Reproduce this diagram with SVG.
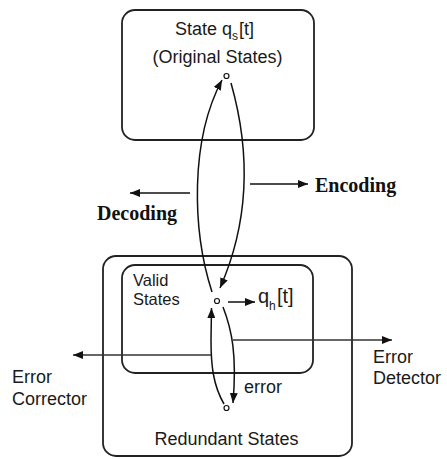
<svg xmlns="http://www.w3.org/2000/svg" width="447" height="459" viewBox="0 0 447 459">
<defs>
<style>
.box{fill:none;stroke:#222;stroke-width:1.8}
.ln{fill:none;stroke:#111;stroke-width:1.5}
.hl{fill:none;stroke:#333;stroke-width:1.4}
.dot{fill:#fff;stroke:#111;stroke-width:1.2}
.t{font-family:"Liberation Sans",Arial,sans-serif;font-size:18px;fill:#1a1a1a}
.v{font-size:16.5px}
.q{font-size:20px}
.sub{font-size:12px}
.b{font-family:"Liberation Serif","Times New Roman",serif;font-size:20px;font-weight:bold;fill:#111}
</style>
<marker id="ah" viewBox="0 0 10 8" refX="10" refY="4" markerWidth="10" markerHeight="8" markerUnits="userSpaceOnUse" orient="auto">
<path d="M0,0 L10,4 L0,8 Z" fill="#111"/>
</marker>
</defs>
<g id="original-states">
<rect class="box" x="122" y="10" width="192" height="130" rx="13"/>
<text class="t" x="175" y="35">State</text>
<text class="t" x="222" y="35">q<tspan class="sub" x="232" dy="5">s</tspan><tspan x="239" dy="-5">[t]</tspan></text>
<text class="t" x="217.5" y="63" text-anchor="middle">(Original States)</text>
<circle class="dot" cx="226.5" cy="76" r="2.5"/>
</g>
<g id="redundant-states">
<rect class="box" x="103" y="256" width="249" height="200" rx="13"/>
<text class="t" x="226.5" y="445" text-anchor="middle">Redundant States</text>
<circle class="dot" cx="226.5" cy="408" r="2.5"/>
</g>
<g id="valid-states">
<rect class="box" x="122" y="265" width="191" height="108" rx="13"/>
<text class="t v" x="133" y="286">Valid</text>
<text class="t v" x="133" y="305">States</text>
<circle class="dot" cx="217" cy="301" r="2.5"/>
</g>
<g id="labels">
<text class="t q" x="258" y="303">q<tspan class="sub" x="269" dy="7">h</tspan><tspan x="277" dy="-7">[t]</tspan></text>
<text class="t" x="244" y="393">error</text>
<text class="t" x="12" y="383">Error</text>
<text class="t" x="12" y="405">Corrector</text>
<text class="t" x="373" y="363">Error</text>
<text class="t" x="373" y="384">Detector</text>
<text class="b" x="315" y="192">Encoding</text>
<text class="b" x="97" y="220">Decoding</text>
</g>
<g id="connectors">
<path class="ln" d="M212,292 C192,230 190,140 222,80" marker-end="url(#ah)"/>
<path class="ln" d="M231,83 C250,150 250,220 220,288" marker-end="url(#ah)"/>
<path class="ln" d="M224,404 C213,385 211,365 211,340 L211.5,308" marker-end="url(#ah)"/>
<path class="ln" d="M223,307 C232,330 237,355 233,403" marker-end="url(#ah)"/>
<path class="ln" d="M228,302 H255" marker-end="url(#ah)"/>
<path class="ln" d="M250,184 H308" marker-end="url(#ah)"/>
<path class="ln" d="M190,193 H130" marker-end="url(#ah)"/>
<path class="hl" d="M211,355 H73" marker-end="url(#ah)"/>
<path class="hl" d="M233,340 H392" marker-end="url(#ah)"/>
</g>
</svg>
